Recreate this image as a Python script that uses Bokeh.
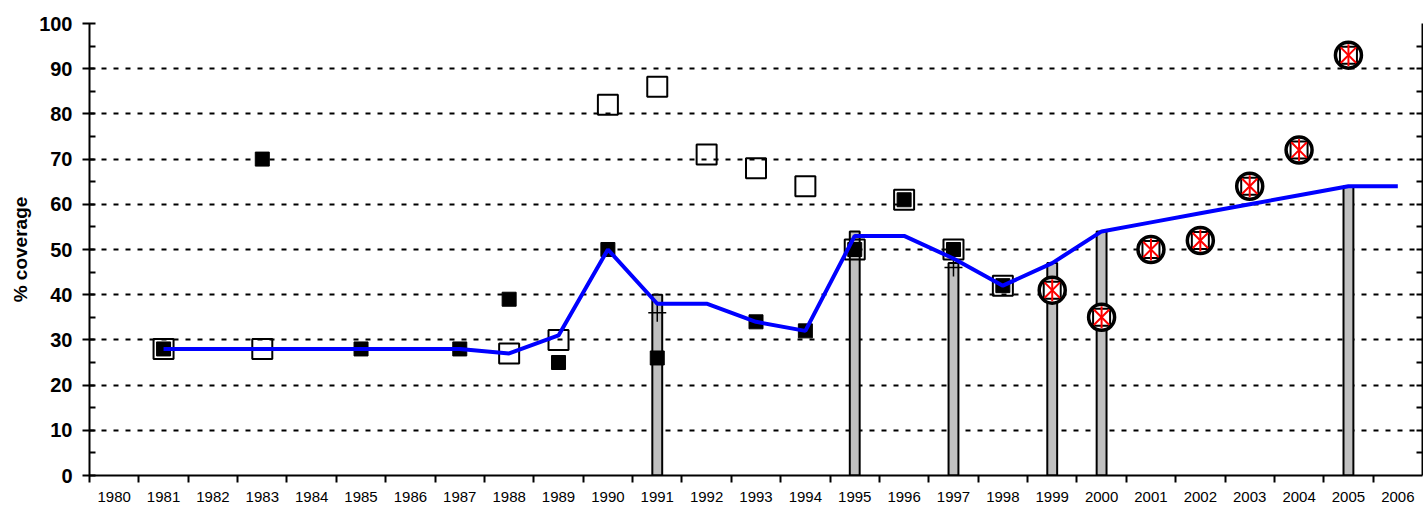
import math
from bokeh.plotting import figure
from bokeh.models import FixedTicker, LinearAxis
from bokeh.embed import file_html
from bokeh.resources import INLINE

# ---- data ----
years = list(range(1980, 2007))
line_years = list(range(1981, 2007))
line_vals = [28, 28, 28, 28, 28, 28, 28, 27, 31, 50, 38, 38, 34, 32, 53, 53, 48, 42,
             47, 54, 56, 58, 60, 62, 64, 64]

bar_years = [1991, 1995, 1997, 1999, 2000, 2005]
bar_vals = [40, 54, 47, 47, 54, 64]

plus_years = [1991, 1997]
plus_vals = [36, 46]

black_years = [1981, 1983, 1985, 1987, 1988, 1989, 1990, 1991, 1993, 1994, 1995, 1996, 1997, 1998]
black_vals = [28, 70, 28, 28, 39, 25, 50, 26, 34, 32, 50, 61, 50, 42]

open_years = [1981, 1983, 1988, 1989, 1990, 1991, 1992, 1993, 1994, 1995, 1996, 1997, 1998]
open_vals = [28, 28, 27, 30, 82, 86, 71, 68, 64, 50, 61, 50, 42]

circ_years = [1999, 2000, 2001, 2002, 2003, 2004, 2005]
circ_vals = [41, 35, 50, 52, 64, 72, 93]

y_ticks = list(range(0, 101, 10))
y_minor = list(range(5, 100, 10))

FONT = "Liberation Sans"

p = figure(frame_width=1333, frame_height=452,
           x_range=(years[0] - 0.5, years[-1] + 0.5), y_range=(0, 100),
           output_backend="svg", toolbar_location=None,
           min_border_top=23, min_border_left=89, min_border_right=1, min_border_bottom=35,
           background_fill_color="white", border_fill_color="white")
p.outline_line_color = None

# grid
p.xgrid.visible = False
p.ygrid.ticker = FixedTicker(ticks=y_ticks[1:])
p.ygrid.grid_line_color = "black"
p.ygrid.grid_line_width = 2
p.ygrid.grid_line_dash = "5 7"

# left axis
ya = p.yaxis[0]
ya.ticker = FixedTicker(ticks=y_ticks, minor_ticks=y_minor)
ya.axis_line_width = 2
ya.axis_line_color = "black"
ya.major_tick_line_width = 2
ya.minor_tick_line_width = 2
ya.major_tick_line_color = "black"
ya.minor_tick_line_color = "black"
ya.major_tick_in = 6
ya.major_tick_out = 7
ya.minor_tick_in = 6
ya.minor_tick_out = 0
ya.major_label_text_font = FONT
ya.major_label_text_font_style = "bold"
ya.major_label_text_font_size = "20px"
ya.major_label_text_color = "black"
ya.major_label_standoff = 10
ya.axis_label = "% coverage"
ya.axis_label_text_font = FONT
ya.axis_label_text_font_style = "bold"
ya.axis_label_text_font_size = "19px"
ya.axis_label_text_color = "black"
ya.axis_label_standoff = 5

# bottom axis
xa = p.xaxis[0]
xa.ticker = FixedTicker(ticks=years, minor_ticks=[y + 0.5 for y in years[:-1]] + [years[0] - 0.5])
xa.axis_line_width = 2
xa.axis_line_color = "black"
xa.major_tick_in = 0
xa.major_tick_out = 0
xa.minor_tick_in = 0
xa.minor_tick_out = 7
xa.minor_tick_line_width = 2
xa.minor_tick_line_color = "black"
xa.major_label_text_font = FONT
xa.major_label_text_font_size = "15px"
xa.major_label_text_color = "black"
xa.major_label_standoff = 9

# right axis (frame edge with inward ticks, no labels)
ra = LinearAxis(ticker=FixedTicker(ticks=[], minor_ticks=list(range(5, 100, 5))))
ra.axis_line_width = 2
ra.axis_line_color = "black"
ra.major_tick_in = 0
ra.major_tick_out = 0
ra.minor_tick_in = 6
ra.minor_tick_out = 0
ra.minor_tick_line_width = 2
ra.minor_tick_line_color = "black"
ra.major_label_standoff = 0
p.add_layout(ra, "right")

# bars
p.vbar(x=bar_years, top=bar_vals, bottom=0, width=0.2,
       fill_color="#c0c0c0", line_color="black", line_width=2)

# plus markers
p.scatter(x=plus_years, y=plus_vals, marker="cross", size=18,
          line_color="black", line_width=1.5)

# black squares
p.scatter(x=black_years, y=black_vals, marker="square", size=14,
          fill_color="black", line_color="black", line_width=1)

# open squares
p.scatter(x=open_years, y=open_vals, marker="square", size=20,
          fill_color=None, line_color="black", line_width=2)

# circles with square and red x + vertical stroke
p.scatter(x=circ_years, y=circ_vals, marker="circle", size=26,
          fill_color="white", line_color="black", line_width=3.5)
p.scatter(x=circ_years, y=circ_vals, marker="square", size=17,
          fill_color=None, line_color="black", line_width=2)
p.scatter(x=circ_years, y=circ_vals, marker="x", size=22,
          line_color="red", line_width=2)
p.scatter(x=circ_years, y=circ_vals, marker="dash", size=22, angle=math.pi / 2,
          line_color="red", line_width=2)

# blue line
p.line(x=line_years, y=line_vals, line_color="#0000ff", line_width=4)

open("out.html", "w").write(file_html(p, INLINE))
